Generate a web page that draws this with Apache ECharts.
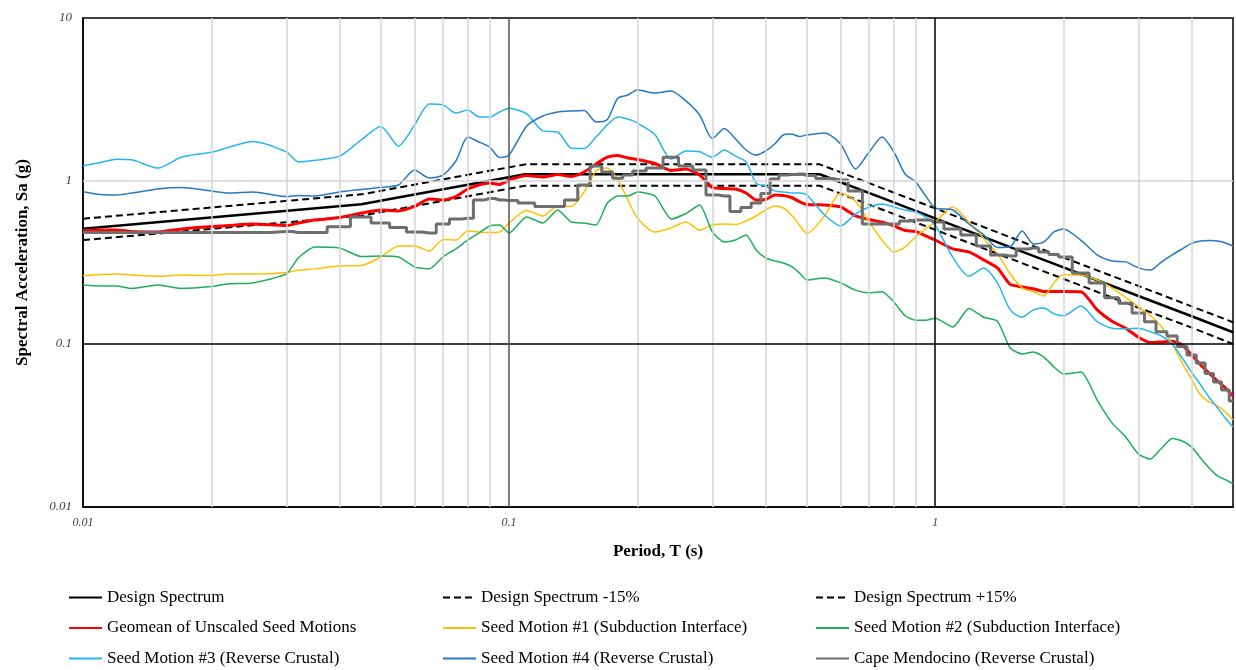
<!DOCTYPE html>
<html><head><meta charset="utf-8">
<script src="https://cdn.jsdelivr.net/npm/echarts/dist/echarts.min.js"></script>
<style>html,body{margin:0;padding:0;background:#fff}#chart{width:1236px;height:670px}</style>
</head><body><div id="chart"></div>
<script>
// ---------- DATA ----------
const periods = [0.01, 0.011, 0.012, 0.013, 0.015, 0.017, 0.02, 0.022, 0.025, 0.03,
  0.032, 0.035, 0.04, 0.045, 0.05, 0.055, 0.06, 0.065, 0.07, 0.075,
  0.08, 0.085, 0.09, 0.095, 0.1, 0.11, 0.12, 0.13, 0.14, 0.15,
  0.16, 0.17, 0.18, 0.19, 0.2, 0.22, 0.24, 0.26, 0.28, 0.3,
  0.32, 0.34, 0.36, 0.38, 0.4, 0.42, 0.44, 0.46, 0.48, 0.5,
  0.55, 0.6, 0.65, 0.7, 0.75, 0.8, 0.85, 0.9, 0.95, 1.0,
  1.1, 1.2, 1.3, 1.4, 1.5, 1.6, 1.7, 1.8, 1.9, 2.0,
  2.2, 2.4, 2.6, 2.8, 3.0, 3.2, 3.4, 3.6, 3.8, 4.0,
  4.2, 4.4, 4.6, 4.8, 5.0];

const designPeriods = [0.01, 0.045, 0.109, 0.536, 0.6, 0.75, 1.0, 1.5, 2.0, 3.0, 4.0, 5.0];
const designSpectrum = [0.51, 0.72, 1.10, 1.10, 0.983, 0.787, 0.59, 0.393, 0.295, 0.197, 0.148, 0.118];
const designMinus15 = [0.434, 0.612, 0.935, 0.935, 0.836, 0.669, 0.502, 0.334, 0.251, 0.167, 0.126, 0.100];
const designPlus15 = [0.587, 0.828, 1.265, 1.265, 1.131, 0.905, 0.679, 0.452, 0.339, 0.227, 0.170, 0.136];

const geomean = [0.495, 0.50, 0.50, 0.49, 0.487, 0.508, 0.526, 0.533, 0.545, 0.533,
  0.552, 0.576, 0.597, 0.636, 0.664, 0.655, 0.698, 0.775, 0.765, 0.803,
  0.893, 0.945, 0.972, 0.952, 1.014, 1.081, 1.058, 1.096, 1.066, 1.136,
  1.271, 1.40, 1.433, 1.384, 1.355, 1.28, 1.16, 1.185, 1.088, 0.912,
  0.899, 0.893, 0.844, 0.765, 0.77, 0.82, 0.815, 0.792, 0.748, 0.718,
  0.713, 0.693, 0.61, 0.58, 0.56, 0.53, 0.497, 0.49, 0.46, 0.4345,
  0.383, 0.367, 0.328, 0.293, 0.232, 0.224, 0.218, 0.21, 0.21, 0.21,
  0.209, 0.162, 0.138, 0.125, 0.110, 0.102, 0.103, 0.104, 0.0986, 0.0856,
  0.0743, 0.066, 0.0593, 0.0537, 0.048];

const seed1 = [0.263, 0.267, 0.269, 0.265, 0.260, 0.265, 0.263, 0.269, 0.269, 0.275,
  0.283, 0.289, 0.301, 0.303, 0.342, 0.399, 0.399, 0.372, 0.438, 0.435,
  0.494, 0.487, 0.483, 0.487, 0.552, 0.659, 0.61, 0.703, 0.698, 0.856,
  1.152, 1.20, 1.014, 0.765, 0.593, 0.487, 0.515, 0.56, 0.50, 0.537,
  0.545, 0.54, 0.568, 0.61, 0.664, 0.703, 0.683, 0.618, 0.537, 0.476,
  0.61, 0.844, 0.754, 0.56, 0.435, 0.367, 0.394, 0.453, 0.508, 0.56,
  0.693, 0.56, 0.444, 0.357, 0.269, 0.221, 0.209, 0.197, 0.237, 0.266,
  0.265, 0.247, 0.221, 0.193, 0.169, 0.149, 0.127, 0.100, 0.0764, 0.0606,
  0.0487, 0.0441, 0.0417, 0.0383, 0.0342];

const seed2 = [0.23, 0.227, 0.227, 0.219, 0.23, 0.219, 0.225, 0.234, 0.237, 0.269,
  0.337, 0.394, 0.388, 0.344, 0.347, 0.342, 0.297, 0.289, 0.343, 0.383,
  0.435, 0.48, 0.53, 0.537, 0.48, 0.601, 0.552, 0.664, 0.56, 0.552,
  0.537, 0.733, 0.809, 0.809, 0.856, 0.809, 0.585, 0.632, 0.713, 0.487,
  0.423, 0.435, 0.467, 0.377, 0.337, 0.323, 0.314, 0.299, 0.273, 0.247,
  0.254, 0.237, 0.214, 0.206, 0.209, 0.181, 0.149, 0.140, 0.140, 0.144,
  0.127, 0.165, 0.146, 0.138, 0.0945, 0.0868, 0.0893, 0.0832, 0.0723, 0.0655,
  0.0673, 0.0453, 0.0328, 0.0269, 0.0211, 0.0197, 0.023, 0.0263, 0.0254, 0.0233,
  0.0199, 0.0173, 0.0155, 0.0147, 0.0139];

const seed3 = [1.24, 1.30, 1.36, 1.35, 1.20, 1.40, 1.50, 1.61, 1.75, 1.51,
  1.31, 1.34, 1.42, 1.79, 2.16, 1.64, 2.21, 2.97, 2.93, 2.61,
  2.73, 2.47, 2.47, 2.65, 2.79, 2.58, 2.03, 2.00, 1.59, 1.58,
  1.86, 2.21, 2.47, 2.40, 2.27, 1.92, 1.36, 1.53, 1.51, 1.40,
  1.55, 1.42, 1.31, 0.97, 0.93, 0.87, 0.856, 0.844, 0.844, 0.82,
  0.618, 0.53, 0.627, 0.693, 0.723, 0.693, 0.664, 0.645, 0.601, 0.537,
  0.34, 0.261, 0.293, 0.237, 0.162, 0.146, 0.162, 0.166, 0.153, 0.149,
  0.171, 0.137, 0.125, 0.124, 0.125, 0.119, 0.112, 0.100, 0.082, 0.067,
  0.056, 0.047, 0.0405, 0.035, 0.031];

const seed4 = [0.86, 0.826, 0.82, 0.844, 0.893, 0.912, 0.868, 0.844, 0.856, 0.803,
  0.815, 0.809, 0.856, 0.887, 0.915, 0.945, 1.168, 1.043, 1.088, 1.327,
  1.86, 1.735, 1.617, 1.394, 1.443, 2.175, 2.505, 2.65, 2.69, 2.71,
  2.30, 2.38, 3.23, 3.37, 3.62, 3.47, 3.57, 3.10, 2.54, 1.823,
  2.10, 1.81, 1.55, 1.443, 1.528, 1.687, 1.915, 1.94, 1.875, 1.915,
  1.97, 1.687, 1.185, 1.506, 1.86, 1.506, 1.104, 0.986, 0.809, 0.683,
  0.664, 0.545, 0.467, 0.391, 0.396, 0.494, 0.411, 0.423, 0.487, 0.508,
  0.432, 0.352, 0.323, 0.319, 0.293, 0.284, 0.319, 0.352, 0.383, 0.414,
  0.428, 0.432, 0.428, 0.417, 0.399];

const capeMendocino = [0.483, 0.483, 0.483, 0.483, 0.483, 0.483, 0.483, 0.483, 0.483, 0.49,
  0.483, 0.483, 0.524, 0.601, 0.552, 0.518, 0.487, 0.48, 0.545, 0.585,
  0.59, 0.765, 0.781, 0.765, 0.758, 0.733, 0.698, 0.698, 0.765, 0.945,
  1.236, 1.136, 1.039, 1.088, 1.152, 1.20, 1.40, 1.236, 1.168, 0.82,
  0.809, 0.65, 0.688, 0.733, 0.838, 1.03, 1.088, 1.096, 1.104, 1.081,
  1.036, 1.014, 0.868, 0.545, 0.545, 0.545, 0.568, 0.576, 0.576, 0.56,
  0.508, 0.467, 0.399, 0.352, 0.347, 0.383, 0.388, 0.367, 0.354, 0.342,
  0.273, 0.237, 0.192, 0.178, 0.155, 0.137, 0.119, 0.112, 0.0965, 0.0856,
  0.0764, 0.066, 0.0585, 0.0522, 0.0447];

const minorGridPeriods = [0.02, 0.03, 0.04, 0.05, 0.06, 0.07, 0.08, 0.09,
  0.2, 0.3, 0.4, 0.5, 0.6, 0.7, 0.8, 0.9, 2, 3, 4];

const seriesNames = ['Design Spectrum', 'Design Spectrum -15%', 'Design Spectrum +15%',
  'Geomean of Unscaled Seed Motions', 'Seed Motion #1 (Subduction Interface)', 'Seed Motion #2 (Subduction Interface)',
  'Seed Motion #3 (Reverse Crustal)', 'Seed Motion #4 (Reverse Crustal)', 'Cape Mendocino (Reverse Crustal)'];

const xTitle = 'Period, T (s)';
const yTitle = 'Spectral Acceleration, Sa (g)';

// ---------- CHART ----------
const FONT = '"Liberation Serif", "Times New Roman", serif';
const pair = (xs, ys) => xs.map((x, i) => [x, ys[i]]);

function lineSeries(name, xs, ys, color, width, extra) {
  return Object.assign({
    name: name, type: 'line', data: pair(xs, ys),
    showSymbol: false, symbol: 'none', smooth: false,
    lineStyle: { color: color, width: width, type: 'solid' },
    itemStyle: { color: color },
    emphasis: { disabled: true }, z: 3
  }, extra || {});
}

const dash = [7, 4];
const series = [
  {
    type: 'line', data: [[1, 1]], showSymbol: false, symbol: 'none',
    lineStyle: { width: 0, opacity: 0 }, silent: true, z: 1,
    markLine: {
      silent: true, symbol: ['none', 'none'], label: { show: false }, animation: false,
      data: minorGridPeriods.map(v => ({ xAxis: v, lineStyle: { color: '#d4d4d4', width: 1.5, type: 'solid' } }))
        .concat([
          { yAxis: 1, lineStyle: { color: '#d4d4d4', width: 1.5, type: 'solid' } },
          { yAxis: 0.1, lineStyle: { color: '#000', width: 1.5, type: 'solid' } },
          { xAxis: 0.1, lineStyle: { color: '#555', width: 1.5, type: 'solid' } },
          { xAxis: 1, lineStyle: { color: '#000', width: 1.5, type: 'solid' } }
        ])
    }
  },
  lineSeries(seriesNames[0], designPeriods, designSpectrum, '#000000', 2.5),
  lineSeries(seriesNames[1], designPeriods, designMinus15, '#000000', 2, { lineStyle: { color: '#000', width: 2, type: dash } }),
  lineSeries(seriesNames[2], designPeriods, designPlus15, '#000000', 2, { lineStyle: { color: '#000', width: 2, type: dash } }),
  lineSeries(seriesNames[3], periods, geomean, '#ff0000', 3, { smooth: 0.2 }),
  lineSeries(seriesNames[4], periods, seed1, '#ffc000', 1.5, { smooth: 0.25 }),
  lineSeries(seriesNames[5], periods, seed2, '#1fae5a', 1.5, { smooth: 0.2 }),
  lineSeries(seriesNames[6], periods, seed3, '#27b5f0', 1.5, { smooth: 0.25 }),
  lineSeries(seriesNames[7], periods, seed4, '#2479c4', 1.5, { smooth: 0.25 }),
  lineSeries(seriesNames[8], periods, capeMendocino, '#6e6e6e', 3, { step: 'middle' })
];

// legend: 3 columns x 3 rows
const colLeft = [68, 442, 815];
const rowCenter = [597, 627.5, 658];
const legends = seriesNames.map((n, i) => ({
  data: [n], left: colLeft[i % 3], top: rowCenter[Math.floor(i / 3)] - 8,
  padding: 0, itemWidth: 33, itemHeight: 14, itemGap: 0, selectedMode: false,
  itemStyle: { opacity: 0, color: 'transparent', borderWidth: 0 },
  textStyle: { fontFamily: FONT, fontSize: 17, color: '#000' }
}));

const chart = echarts.init(document.getElementById('chart'), null, { renderer: 'canvas' });
chart.setOption({
  animation: false,
  backgroundColor: '#fff',
  grid: { left: 83, right: 3, top: 18, bottom: 163, show: true, borderColor: '#000', borderWidth: 1.5, backgroundColor: 'transparent' },
  xAxis: {
    type: 'log', logBase: 10, min: 0.01, max: 5,
    name: xTitle, nameLocation: 'middle', nameGap: 36,
    nameTextStyle: { fontFamily: FONT, fontSize: 17, fontWeight: 'bold', color: '#000' },
    axisLine: { show: true, lineStyle: { color: '#000', width: 1.5 } },
    axisTick: { show: false },
    splitLine: { show: false },
    axisLabel: { fontFamily: FONT, fontSize: 12, fontStyle: 'italic', color: '#404040', margin: 10, showMaxLabel: false }
  },
  yAxis: {
    type: 'log', logBase: 10, min: 0.01, max: 10,
    name: yTitle, nameLocation: 'middle', nameGap: 52, nameRotate: 90,
    nameTextStyle: { fontFamily: FONT, fontSize: 17, fontWeight: 'bold', color: '#000' },
    axisLine: { show: true, lineStyle: { color: '#000', width: 1.5 } },
    axisTick: { show: false },
    splitLine: { show: false },
    axisLabel: { fontFamily: FONT, fontSize: 13, fontStyle: 'italic', color: '#404040', margin: 11 }
  },
  legend: legends,
  series: series
});
</script>
</body></html>
